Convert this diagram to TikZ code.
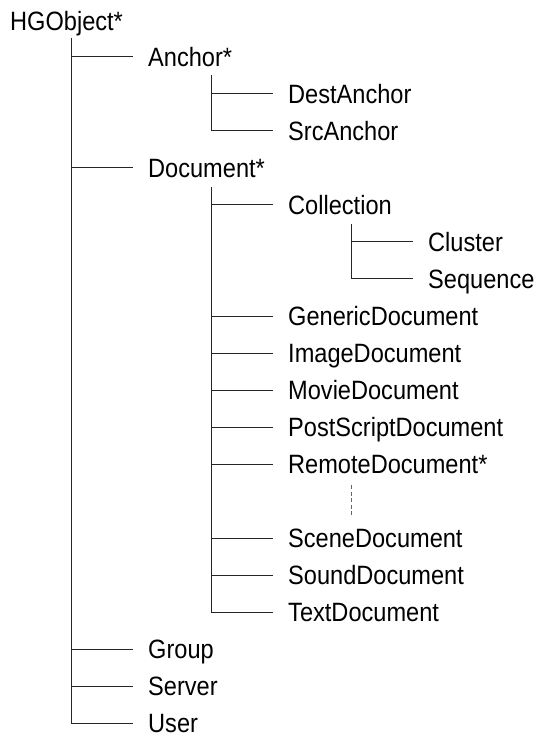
\documentclass[tikz,border=0pt]{standalone}
\usepackage{fontspec}
\setmainfont{Liberation Sans}[FakeStretch=0.89]
\usetikzlibrary{calc}
\begin{document}
\begin{tikzpicture}[x=1bp,y=-1bp,
  lbl/.style={anchor=west,inner sep=0pt,text height=25bp,text depth=6bp,font=\fontsize{26.5bp}{30bp}\selectfont},
  tline/.style={line width=0.8bp,draw=black!85},
  dline/.style={line width=0.9bp,draw=black!60,dash pattern=on 4bp off 2.5bp}]
\useasboundingbox (0,0) rectangle (539,738);
\node[lbl] (hg) at (10,21.5) {HGObject*};
\node[lbl] (anc) at (148,56.55) {Anchor*};
\node[lbl] (dest) at (288,93.6) {DestAnchor};
\node[lbl] (src) at (288,130.65) {SrcAnchor};
\node[lbl] (doc) at (148,167.7) {Document*};
\node[lbl] (coll) at (288,204.75) {Collection};
\node[lbl] (clu) at (428,241.8) {Cluster};
\node[lbl] (seq) at (428,278.85) {Sequence};
\node[lbl] (gen) at (288,315.9) {GenericDocument};
\node[lbl] (img) at (288,352.95) {ImageDocument};
\node[lbl] (mov) at (288,390) {MovieDocument};
\node[lbl] (ps) at (288,427.05) {PostScriptDocument};
\node[lbl] (rem) at (288,464.1) {RemoteDocument*};
\node[lbl] (scene) at (288,538.2) {SceneDocument};
\node[lbl] (sound) at (288,575.25) {SoundDocument};
\node[lbl] (textd) at (288,612.3) {TextDocument};
\node[lbl] (grp) at (148,649.35) {Group};
\node[lbl] (srv) at (148,686.4) {Server};
\node[lbl] (usr) at (148,723.45) {User};
% root
\coordinate (hgv) at ($(hg.west)+(61,16.5)$);
\draw[tline] (hgv) |- ([xshift=-15bp]usr.west);
\foreach \c in {anc,doc,grp,srv} \draw[tline] (hgv |- \c.west) -- ([xshift=-15bp]\c.west);
% anchor
\coordinate (ancv) at ($(anc.west)+(63,18.5)$);
\draw[tline] (ancv) |- ([xshift=-15bp]src.west);
\draw[tline] (ancv |- dest.west) -- ([xshift=-15bp]dest.west);
% document
\coordinate (docv) at ($(doc.west)+(63,19.5)$);
\draw[tline] (docv) |- ([xshift=-15bp]textd.west);
\foreach \c in {coll,gen,img,mov,ps,rem,scene,sound} \draw[tline] (docv |- \c.west) -- ([xshift=-15bp]\c.west);
% collection
\coordinate (collv) at ($(coll.west)+(63,19.5)$);
\draw[tline] (collv) |- ([xshift=-15bp]seq.west);
\draw[tline] (collv |- clu.west) -- ([xshift=-15bp]clu.west);
% remote (continued)
\draw[dline] ($(rem.west)+(63,21)$) -- ($(rem.west)+(63,51)$);
\end{tikzpicture}
\end{document}
